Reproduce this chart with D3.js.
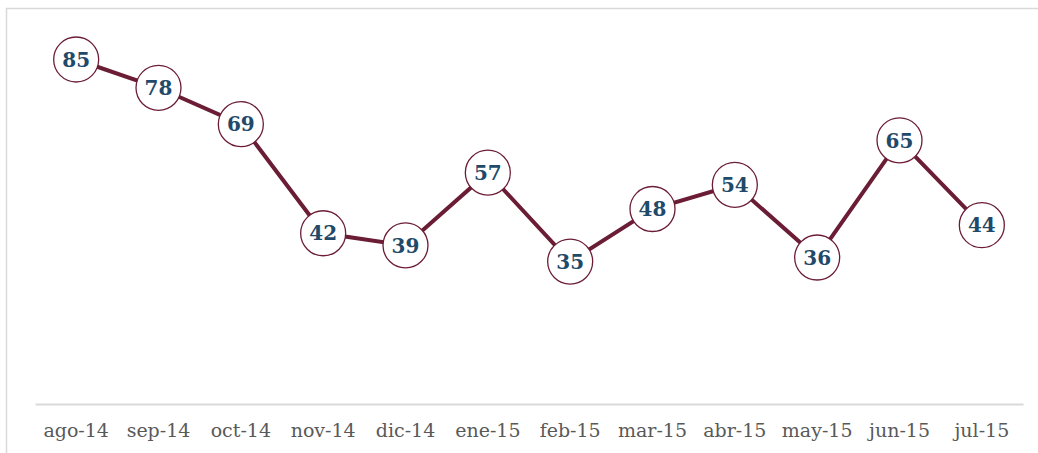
<!DOCTYPE html>
<html>
<head>
<meta charset="utf-8">
<script src="https://cdn.jsdelivr.net/npm/d3@7"></script>
<style>
	body { margin: 0; background: #fff; }
	svg { display: block; }
</style>
</head>
<body>
<div id="container"></div>
<script>
const width = 1038;
const height = 453;

// DATA
const months = ["ago-14", "sep-14", "oct-14", "nov-14", "dic-14", "ene-15", "feb-15", "mar-15", "abr-15", "may-15", "jun-15", "jul-15"];
const values = [85, 78, 69, 42, 39, 57, 35, 48, 54, 36, 65, 44];

const LINECOLOR = "#6b1d35";
const LABELCOLOR = "#1f4a6a";

let svg = d3.select("#container").append("svg")
	.attr("width", width)
	.attr("height", height);

// frame
svg.append("rect")
	.attr("x", 6.5)
	.attr("y", 8.5)
	.attr("width", width + 10)
	.attr("height", height)
	.attr("fill", "none")
	.attr("stroke", "#d9d9d9")
	.attr("stroke-width", 1.5);

// SCALES
let x = d3.scaleBand().domain(months).range([35, 1023]);
let y = d3.scaleLinear().domain([0, 85]).range([403, 59.5]);

let cx = d => x(d) + x.bandwidth() / 2;

// axis
let axis = svg.append("g")
	.attr("transform", `translate(0,${y(0) + 1})`)
	.call(d3.axisBottom(x).tickSize(0).tickPadding(20));

axis.select(".domain").attr("stroke", "#d9d9d9").attr("stroke-width", 2);
axis.selectAll("text")
	.attr("fill", "#595959")
	.style("font-family", "'DejaVu Serif', serif")
	.style("font-size", "19px");

let points = months.map((m, i) => ({ m: m, v: values[i] }));

svg.append("path")
	.datum(points)
	.attr("fill", "none")
	.attr("stroke", LINECOLOR)
	.attr("stroke-width", 4)
	.attr("d", d3.line().x(d => cx(d.m)).y(d => y(d.v)));

let node = svg.selectAll(".node")
	.data(points)
	.enter()
	.append("g")
	.attr("class", "node")
	.attr("transform", d => `translate(${cx(d.m)},${y(d.v)})`);

node.append("circle")
	.attr("r", 22.5)
	.attr("fill", "#fff")
	.attr("stroke", LINECOLOR)
	.attr("stroke-width", 1.3);

node.append("text")
	.attr("text-anchor", "middle")
	.attr("dy", "0.36em")
	.attr("fill", LABELCOLOR)
	.style("font-family", "'DejaVu Serif', serif")
	.style("font-weight", "bold")
	.style("font-size", "20px")
	.text(d => d.v);
</script>
</body>
</html>
